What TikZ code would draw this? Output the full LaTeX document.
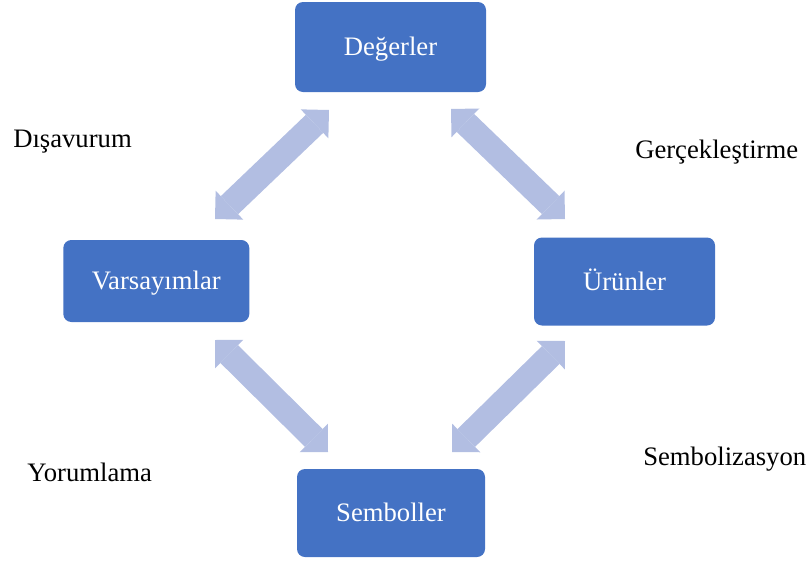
\documentclass[tikz,border=0pt]{standalone}
\usepackage{fontspec}
\setmainfont{Liberation Serif}
\usetikzlibrary{arrows.meta}
\definecolor{boxblue}{RGB}{68,114,196}
\definecolor{arrowblue}{RGB}{178,190,226}
\begin{document}
\begin{tikzpicture}[x=0.75pt,y=-0.75pt,
  stage/.style={rectangle, rounded corners=6pt, fill=boxblue, text=white,
    font=\fontsize{20}{24}\selectfont, inner sep=0pt,
    text height=13.2pt, text depth=0pt},
  flow/.style={draw=arrowblue, line width=18.75pt, line cap=butt,
    >={Triangle[length=15pt,width=30pt,line width=0pt]}, <->},
  caption/.style={anchor=base west, inner sep=0pt,
    font=\fontsize{20}{24}\selectfont}]
  \useasboundingbox (0,0) rectangle (811,568);

  % the four stages
  \node[stage, minimum width=143.25pt, minimum height=67.5pt] (deg) at (390.5,47) {Değerler};
  \node[stage, minimum width=139.5pt, minimum height=61.5pt] (var) at (156.3,281) {Varsayımlar};
  \node[stage, minimum width=135.75pt, minimum height=66pt] (uru) at (624.5,281.5) {Ürünler};
  \node[stage, minimum width=141pt, minimum height=66pt] (sem) at (391,513) {Semboller};

  % ends of the block arrows between the stages
  \coordinate (a1) at (215,219);  \coordinate (a2) at (329,110);
  \coordinate (b1) at (451,109);  \coordinate (b2) at (565,219);
  \coordinate (c1) at (215,340);  \coordinate (c2) at (328,452);
  \coordinate (d1) at (565,341);  \coordinate (d2) at (452,452);

  \draw[flow] (a1) -- (a2);
  \draw[flow] (b1) -- (b2);
  \draw[flow] (c1) -- (c2);
  \draw[flow] (d1) -- (d2);

  % process labels
  \node[caption] (l1) at (13,147) {Dışavurum};
  \node[caption] (l2) at (635,158) {Gerçekleştirme};
  \node[caption] (l3) at (27,481.5) {Yorumlama};
  \node[caption] (l4) at (643,465) {Sembolizasyon};
\end{tikzpicture}
\end{document}
